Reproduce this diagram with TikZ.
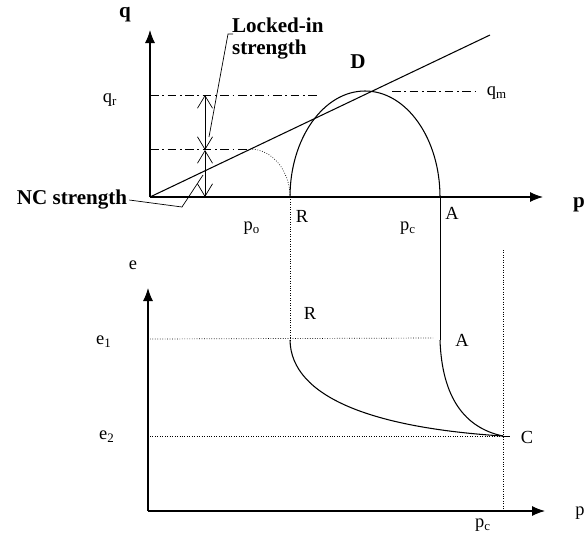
\documentclass[tikz,border=0pt]{standalone}
\usepackage{fontspec}
\setmainfont{Liberation Serif}
\usetikzlibrary{arrows.meta}

\begin{document}
\begin{tikzpicture}[
        x=0.02cm, y=0.02cm,
        every node/.style={font=\fontsize{10.5}{12}\selectfont, inner sep=1pt},
        bold/.style={font=\fontsize{12}{12.5}\selectfont\bfseries},
        axis/.style={semithick, -{Latex[length=2.6mm,width=2mm]}},
        curve/.style={semithick},
        dashdot/.style={thin, dash pattern=on 5pt off 2pt on 1pt off 2pt},
        dots/.style={thin, densely dotted},
        gap/.style={thin, {Straight Barb[length=2.5mm,width=3mm]}-{Straight Barb[length=2.5mm,width=3mm]}},
        leader/.style={thin}
    ]
    \useasboundingbox (0,0) rectangle (588,-535);

    % Top plot: q against p
    \coordinate (O1) at (150,-197);
    \coordinate (qtop) at (150,-30);
    \coordinate (pend1) at (543,-197);
    \coordinate (L) at (490,-35);
    \coordinate (R) at (290,-197);
    \coordinate (A) at (440,-197);
    \coordinate (X) at (250,-149);

    \draw[axis] (O1) -- (qtop);
    \draw[axis] (O1) -- (pend1);
    \draw[curve] (O1) -- (L);

    \node[bold] (q) at (125,-15) {q};
    \node[bold] (p1) at (579,-205) {p};

    % strength levels
    \coordinate (qr0) at (150,-95);
    \coordinate (qr1) at (317,-95);
    \coordinate (nc0) at (150,-149);
    \coordinate (qm0) at (392,-91);
    \coordinate (qm1) at (478,-91);
    \draw[dashdot] (qr0) -- (qr1);
    \draw[dashdot] (nc0) -- (X);
    \draw[dashdot] (qm0) -- (qm1);
    \node (qr) at (110,-100) {q\textsubscript{r}};
    \node (qm) at (497,-93) {q\textsubscript{m}};

    % stress path
    \draw[dots] (X) arc[start angle=90, end angle=0, x radius=40, y radius=48];
    \draw[curve] (R) arc[start angle=180, end angle=0, x radius=75, y radius=106];
    \node[bold] (D) at (358,-62) {D};

    % locked-in and NC parts
    \coordinate (g0) at (205,-95);
    \coordinate (g1) at (205,-150);
    \coordinate (g2) at (205,-197);
    \draw[gap] (g0) -- (g1);
    \draw[gap] (g1) -- (g2);

    \node[bold, anchor=north west, align=left] (lock) at (230,-16) {Locked-in\\strength};
    \coordinate (k0) at (233,-34);
    \coordinate (k1) at (228,-34);
    \coordinate (k2) at (209,-137);
    \draw[leader] (k0) -- (k1) -- (k2);

    \node[bold] (nc) at (72,-200) {NC strength};
    \coordinate (n1) at (182,-207);
    \coordinate (n2) at (203,-175);
    \draw[leader] (nc.east) -- (n1) -- (n2);

    \node (po) at (252,-228) {p\textsubscript{o}};
    \node (Rt) at (302,-216) {R};
    \node (pc1) at (408,-228) {p\textsubscript{c}};
    \node (At) at (452,-213) {A};

    % Bottom plot: e against p
    \coordinate (O2) at (148,-511);
    \coordinate (etop) at (148,-288);
    \coordinate (pend2) at (545,-511);
    \draw[axis] (O2) -- (etop);
    \draw[axis] (O2) -- (pend2);
    \node (e) at (133,-265) {e};
    \node (p2) at (580,-513) {p};

    \coordinate (R1) at (290,-340);
    \coordinate (A1) at (440,-340);
    \coordinate (C) at (503,-436);
    \coordinate (e1a) at (150,-339);
    \coordinate (e1b) at (433,-338);
    \coordinate (e2a) at (150,-436);
    \coordinate (ctop) at (503,-250);
    \coordinate (cbot) at (503,-511);
    \coordinate (ctick) at (510,-436);

    \draw[dots] (R) -- (R1);
    \draw[thin] (A) -- (A1);
    \draw[dots] (e1a) -- (e1b);
    \draw[dots] (e2a) -- (C);
    \draw[dots] (ctop) -- (cbot);
    \draw[thin] (C) -- (ctick);

    \draw[curve] (R1) .. controls (291,-398) and (375,-428) .. (C);
    \draw[curve] (A1) .. controls (442,-398) and (465,-428) .. (C);

    \node (e1) at (104,-342) {e\textsubscript{1}};
    \node (e2) at (107,-437) {e\textsubscript{2}};
    \node (Rb) at (310,-313) {R};
    \node (Ab) at (462,-340) {A};
    \node (Cb) at (527,-437) {C};
    \node (pc2) at (483,-525) {p\textsubscript{c}};
\end{tikzpicture}
\end{document}
